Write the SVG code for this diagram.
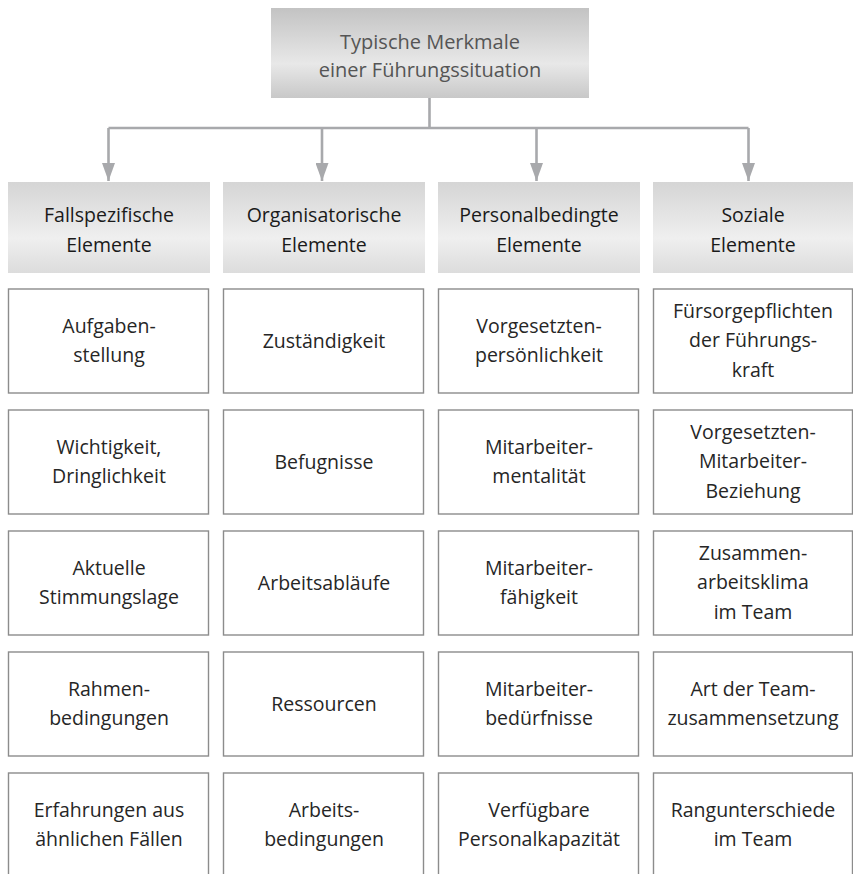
<svg xmlns="http://www.w3.org/2000/svg" width="853" height="874" viewBox="0 0 853 874">
<defs>
<linearGradient id="gTitle" x1="0" y1="0" x2="0" y2="1">
<stop offset="0" stop-color="#c3c3c3"/>
<stop offset="0.62" stop-color="#e8e8e8"/>
<stop offset="1" stop-color="#c8c8c8"/>
</linearGradient>
<linearGradient id="gHead" x1="0" y1="0" x2="0" y2="1">
<stop offset="0" stop-color="#d5d5d5"/>
<stop offset="0.62" stop-color="#efefef"/>
<stop offset="1" stop-color="#dcdcdc"/>
</linearGradient>
<marker id="arr" markerUnits="userSpaceOnUse" markerWidth="18" markerHeight="13" refX="18" refY="6.5" orient="auto" viewBox="0 0 18 13">
<path d="M0,0 L18,6.5 L0,13 Z" fill="#a8a9ac"/>
</marker>
<style>
.t{font-family:"Open Sans","Noto Sans","Liberation Sans",sans-serif;font-size:19.5px;text-anchor:middle;fill:#262626}
.h{fill:#1a1a1a}
.ti{font-size:20px;fill:#555555}
.box{fill:#ffffff;stroke:#8c8c8c;stroke-width:1.4}
.hd{fill:url(#gHead)}
.c{fill:none;stroke:#a8a9ac;stroke-width:2.6}
</style>
</defs>
<rect width="853" height="874" fill="#ffffff"/>

<g id="connectors">
<path class="c" d="M429.5,98 V128 M108.5,128 H748.5"/>
<path class="c" d="M108.5,128 V181" marker-end="url(#arr)"/>
<path class="c" d="M322,128 V181" marker-end="url(#arr)"/>
<path class="c" d="M536.5,128 V181" marker-end="url(#arr)"/>
<path class="c" d="M748.5,128 V181" marker-end="url(#arr)"/>
</g>

<g id="title">
<rect x="271" y="8" width="318" height="90" fill="url(#gTitle)"/>
<text class="t ti" x="430" y="49">Typische Merkmale</text>
<text class="t ti" x="430" y="77">einer Führungssituation</text>
</g>

<g id="head1"><rect class="hd" x="8" y="182" width="202" height="91"/>
<text class="t h" x="109" y="222">Fallspezifische</text><text class="t h" x="109" y="252">Elemente</text></g>
<g id="head2"><rect class="hd" x="223" y="182" width="202" height="91"/>
<text class="t h" x="324" y="222">Organisatorische</text><text class="t h" x="324" y="252">Elemente</text></g>
<g id="head3"><rect class="hd" x="438" y="182" width="202" height="91"/>
<text class="t h" x="539" y="222">Personalbedingte</text><text class="t h" x="539" y="252">Elemente</text></g>
<g id="head4"><rect class="hd" x="653" y="182" width="202" height="91"/>
<text class="t h" x="753" y="222">Soziale</text><text class="t h" x="753" y="252">Elemente</text></g>

<!-- Column 1 -->
<g id="c1r1"><rect class="box" x="8.5" y="289" width="200" height="104"/>
<text class="t" x="109" y="333">Aufgaben-</text><text class="t" x="109" y="362">stellung</text></g>
<g id="c1r2"><rect class="box" x="8.5" y="410" width="200" height="104"/>
<text class="t" x="109" y="454">Wichtigkeit,</text><text class="t" x="109" y="483">Dringlichkeit</text></g>
<g id="c1r3"><rect class="box" x="8.5" y="531" width="200" height="104"/>
<text class="t" x="109" y="575">Aktuelle</text><text class="t" x="109" y="604">Stimmungslage</text></g>
<g id="c1r4"><rect class="box" x="8.5" y="652" width="200" height="104"/>
<text class="t" x="109" y="696">Rahmen-</text><text class="t" x="109" y="725">bedingungen</text></g>
<g id="c1r5"><rect class="box" x="8.5" y="773" width="200" height="104"/>
<text class="t" x="109" y="817">Erfahrungen aus</text><text class="t" x="109" y="846">ähnlichen Fällen</text></g>

<!-- Column 2 -->
<g id="c2r1"><rect class="box" x="223.5" y="289" width="200" height="104"/>
<text class="t" x="324" y="348">Zuständigkeit</text></g>
<g id="c2r2"><rect class="box" x="223.5" y="410" width="200" height="104"/>
<text class="t" x="324" y="469">Befugnisse</text></g>
<g id="c2r3"><rect class="box" x="223.5" y="531" width="200" height="104"/>
<text class="t" x="324" y="590">Arbeitsabläufe</text></g>
<g id="c2r4"><rect class="box" x="223.5" y="652" width="200" height="104"/>
<text class="t" x="324" y="711">Ressourcen</text></g>
<g id="c2r5"><rect class="box" x="223.5" y="773" width="200" height="104"/>
<text class="t" x="324" y="817">Arbeits-</text><text class="t" x="324" y="846">bedingungen</text></g>

<!-- Column 3 -->
<g id="c3r1"><rect class="box" x="438.5" y="289" width="200" height="104"/>
<text class="t" x="539" y="333">Vorgesetzten-</text><text class="t" x="539" y="362">persönlichkeit</text></g>
<g id="c3r2"><rect class="box" x="438.5" y="410" width="200" height="104"/>
<text class="t" x="539" y="454">Mitarbeiter-</text><text class="t" x="539" y="483">mentalität</text></g>
<g id="c3r3"><rect class="box" x="438.5" y="531" width="200" height="104"/>
<text class="t" x="539" y="575">Mitarbeiter-</text><text class="t" x="539" y="604">fähigkeit</text></g>
<g id="c3r4"><rect class="box" x="438.5" y="652" width="200" height="104"/>
<text class="t" x="539" y="696">Mitarbeiter-</text><text class="t" x="539" y="725">bedürfnisse</text></g>
<g id="c3r5"><rect class="box" x="438.5" y="773" width="200" height="104"/>
<text class="t" x="539" y="817">Verfügbare</text><text class="t" x="539" y="846">Personalkapazität</text></g>

<!-- Column 4 -->
<g id="c4r1"><rect class="box" x="653.5" y="289" width="199" height="104"/>
<text class="t" x="753" y="318">Fürsorgepflichten</text><text class="t" x="753" y="347">der Führungs-</text><text class="t" x="753" y="377">kraft</text></g>
<g id="c4r2"><rect class="box" x="653.5" y="410" width="199" height="104"/>
<text class="t" x="753" y="439">Vorgesetzten-</text><text class="t" x="753" y="468">Mitarbeiter-</text><text class="t" x="753" y="498">Beziehung</text></g>
<g id="c4r3"><rect class="box" x="653.5" y="531" width="199" height="104"/>
<text class="t" x="753" y="560">Zusammen-</text><text class="t" x="753" y="589">arbeitsklima</text><text class="t" x="753" y="619">im Team</text></g>
<g id="c4r4"><rect class="box" x="653.5" y="652" width="199" height="104"/>
<text class="t" x="753" y="696">Art der Team-</text><text class="t" x="753" y="725">zusammensetzung</text></g>
<g id="c4r5"><rect class="box" x="653.5" y="773" width="199" height="104"/>
<text class="t" x="753" y="817">Rangunterschiede</text><text class="t" x="753" y="846">im Team</text></g>
</svg>
